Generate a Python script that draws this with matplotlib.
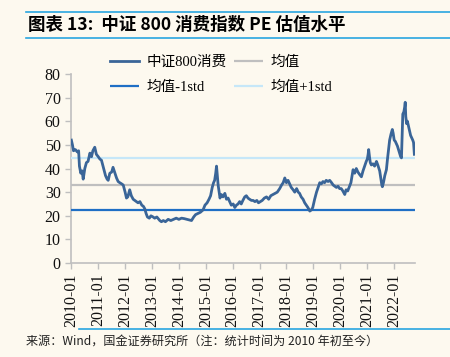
import matplotlib
matplotlib.use("Agg")
import matplotlib.pyplot as plt
from matplotlib.lines import Line2D

plt.rcParams['font.family'] = ['Liberation Serif', 'Noto Sans CJK SC', 'DejaVu Sans']

# 中证800消费 PE, x in fractional years
pe_dates = [2010.00, 2010.04, 2010.08, 2010.15, 2010.22, 2010.27, 2010.30, 2010.35, 2010.40, 2010.44,
            2010.50, 2010.56, 2010.62, 2010.69, 2010.75, 2010.80, 2010.87, 2010.93, 2011.00, 2011.06,
            2011.12, 2011.20, 2011.27, 2011.33, 2011.37, 2011.43, 2011.50, 2011.55, 2011.62, 2011.68,
            2011.74, 2011.80, 2011.87, 2011.93, 2012.00, 2012.05, 2012.10, 2012.17, 2012.23, 2012.30,
            2012.36, 2012.42, 2012.48, 2012.55, 2012.62, 2012.68, 2012.73, 2012.78, 2012.83, 2012.90,
            2012.96, 2013.04, 2013.10, 2013.18, 2013.25, 2013.29, 2013.35, 2013.42, 2013.50, 2013.60,
            2013.70, 2013.80, 2013.90, 2014.00, 2014.10, 2014.20, 2014.30, 2014.40, 2014.47, 2014.55,
            2014.62, 2014.71, 2014.80, 2014.90, 2014.97, 2015.05, 2015.12, 2015.18, 2015.24, 2015.29,
            2015.33, 2015.37, 2015.40, 2015.43, 2015.46, 2015.50, 2015.53, 2015.58, 2015.64, 2015.71,
            2015.77, 2015.83, 2015.89, 2015.95, 2016.02, 2016.08, 2016.14, 2016.20, 2016.26, 2016.32,
            2016.38, 2016.45, 2016.51, 2016.57, 2016.63, 2016.70, 2016.76, 2016.83, 2016.90, 2016.96,
            2017.03, 2017.10, 2017.18, 2017.26, 2017.34, 2017.42, 2017.50, 2017.58, 2017.66, 2017.75,
            2017.82, 2017.88, 2017.94, 2018.00, 2018.06, 2018.12, 2018.18, 2018.25, 2018.31, 2018.38,
            2018.44, 2018.49, 2018.55, 2018.62, 2018.68, 2018.74, 2018.80, 2018.87, 2018.93, 2018.98,
            2019.05, 2019.12, 2019.18, 2019.24, 2019.30, 2019.36, 2019.42, 2019.48, 2019.55, 2019.61,
            2019.68, 2019.74, 2019.80, 2019.86, 2019.92, 2019.98, 2020.04, 2020.10, 2020.17, 2020.22,
            2020.28, 2020.35, 2020.40, 2020.45, 2020.48, 2020.54, 2020.60, 2020.66, 2020.72, 2020.79,
            2020.85, 2020.91, 2020.97, 2021.01, 2021.04, 2021.06, 2021.09, 2021.12, 2021.16, 2021.22,
            2021.28, 2021.35, 2021.40, 2021.44, 2021.47, 2021.51, 2021.55, 2021.57, 2021.61, 2021.66,
            2021.72, 2021.76, 2021.80, 2021.84, 2021.89, 2021.94, 2021.97, 2022.01, 2022.05, 2022.09,
            2022.13, 2022.17, 2022.21, 2022.25, 2022.28, 2022.30, 2022.33, 2022.37, 2022.40, 2022.42,
            2022.44, 2022.47, 2022.50, 2022.54, 2022.58, 2022.62, 2022.66, 2022.70, 2022.73, 2022.76]
pe_values = [52, 50, 47.5, 48, 47, 47.5, 41, 38, 39, 35.5,
             40, 42.5, 43, 46.5, 45, 47.5, 49, 46, 45, 44,
             43.5, 40, 37, 35.5, 35, 38, 38.5, 40.5, 38, 36,
             34.5, 34, 33.5, 33, 30, 27.5, 28, 31, 28.5, 27,
             26.5, 26, 25.5, 26, 24.5, 24, 23, 21, 19.5, 19,
             20, 19.5, 19, 19.5, 18.5, 18, 17.5, 18, 17.5, 18.5,
             18, 18.5, 19, 18.5, 19, 18.8, 18.5, 18.2, 18, 19.5,
             20.5, 21, 21.5, 22.5, 24.5, 25.5, 27, 28.5, 32, 34,
             35, 38, 41, 37, 33, 30, 27.5, 29, 28, 29.5,
             27, 27.5, 26, 24.5, 25, 23.5, 24.5, 25, 26, 25,
             26.5, 28, 28.5, 27.5, 27, 26.5, 26.5, 26, 26.5, 25.5,
             26, 26.5, 27.5, 28, 27, 28.5, 29, 29.5, 30, 31.5,
             33, 34, 36, 34, 35, 33.5, 32, 31, 30, 31.5,
             30, 29.5, 28, 27, 25.5, 24.5, 23.5, 22, 22.5, 23.5,
             27, 30, 32, 34, 33.5, 34.5, 34, 35, 34.5, 35,
             34, 33, 32.5, 32, 32.5, 31.5, 31.5, 30.5, 29, 31,
             30.5, 32.5, 34, 37.5, 39.5, 38, 40, 38.5, 37.5, 36.5,
             39, 41, 43, 44, 46, 48, 45, 42.5, 41.5, 42,
             41, 43, 41.5, 40, 39, 36, 33, 32.3, 34, 37,
             39.5, 44, 48, 52, 54.5, 56.5, 55, 52, 51.5, 50.5,
             49.5, 48, 46.5, 45, 44.5, 52, 63, 64, 66, 68,
             62, 59, 60, 58, 56, 54, 53, 52, 51, 46]

pe_mean = 33.2
pe_low = 22.3
pe_high = 44.4

years = list(range(2010, 2023))
year_labels = [f"{y}-01" for y in years]

bg = '#FDF9EF'
fig = plt.figure(figsize=(4.5, 3.57), dpi=100, facecolor=bg)
ax = fig.add_axes([0.158, 0.263, 0.764, 0.53])
ax.set_facecolor(bg)

x0, x1 = 2009.99, 2022.78
ax.plot(pe_dates, pe_values, color='#3A6598', lw=2.0, label='中证800消费', zorder=4)
ax.hlines(pe_low, x0, x1, color='#1F6FC5', lw=1.6, label='均值-1std', zorder=3)
ax.hlines(pe_mean, x0, x1, color='#BFBFBF', lw=1.6, label='均值', zorder=3)
ax.hlines(pe_high, x0, x1, color='#C6E7F8', lw=1.6, label='均值+1std', zorder=3)

ax.set_xlim(x0, x1)
ax.set_ylim(0, 80)
ax.set_yticks(range(0, 81, 10))
ax.set_xticks(years)
ax.set_xticklabels(year_labels, rotation=90)
ax.tick_params(axis='both', labelsize=11.5, colors='#BFBFBF', labelcolor='#111111', length=4, width=1)
for s in ['top', 'right']:
    ax.spines[s].set_visible(False)
for s in ['left', 'bottom']:
    ax.spines[s].set_color('#BFBFBF')
    ax.spines[s].set_linewidth(1.2)

ax.legend(ncol=2, frameon=False,
          loc='center left', bbox_to_anchor=(0.215, 0.79), bbox_transform=fig.transFigure,
          handlelength=2.0, handletextpad=0.5, columnspacing=0.5, labelspacing=0.85,
          prop={'family': ['Liberation Serif', 'Noto Sans CJK SC'], 'size': 10.5})

line_c = '#29A6E0'
fig.add_artist(Line2D([0.058, 1.0], [0.966, 0.966], color=line_c, lw=1.2))
fig.add_artist(Line2D([0.058, 1.0], [0.893, 0.893], color=line_c, lw=1.2))
fig.add_artist(Line2D([0.175, 1.0], [0.078, 0.078], color=line_c, lw=1.2))

fig.text(0.062, 0.93, '图表 13:  中证 800 消费指数 PE 估值水平', fontsize=12.6, fontweight='bold',
         style='italic', va='center', family=['Noto Sans CJK SC', 'DejaVu Sans'])
fig.text(0.058, 0.044, '来源：Wind，国金证券研究所（注：统计时间为 2010 年初至今）', fontsize=8.7,
         va='center', family=['Noto Sans CJK SC', 'DejaVu Sans'], color='#222222')

fig.savefig('out.png', dpi=100, facecolor=bg)
